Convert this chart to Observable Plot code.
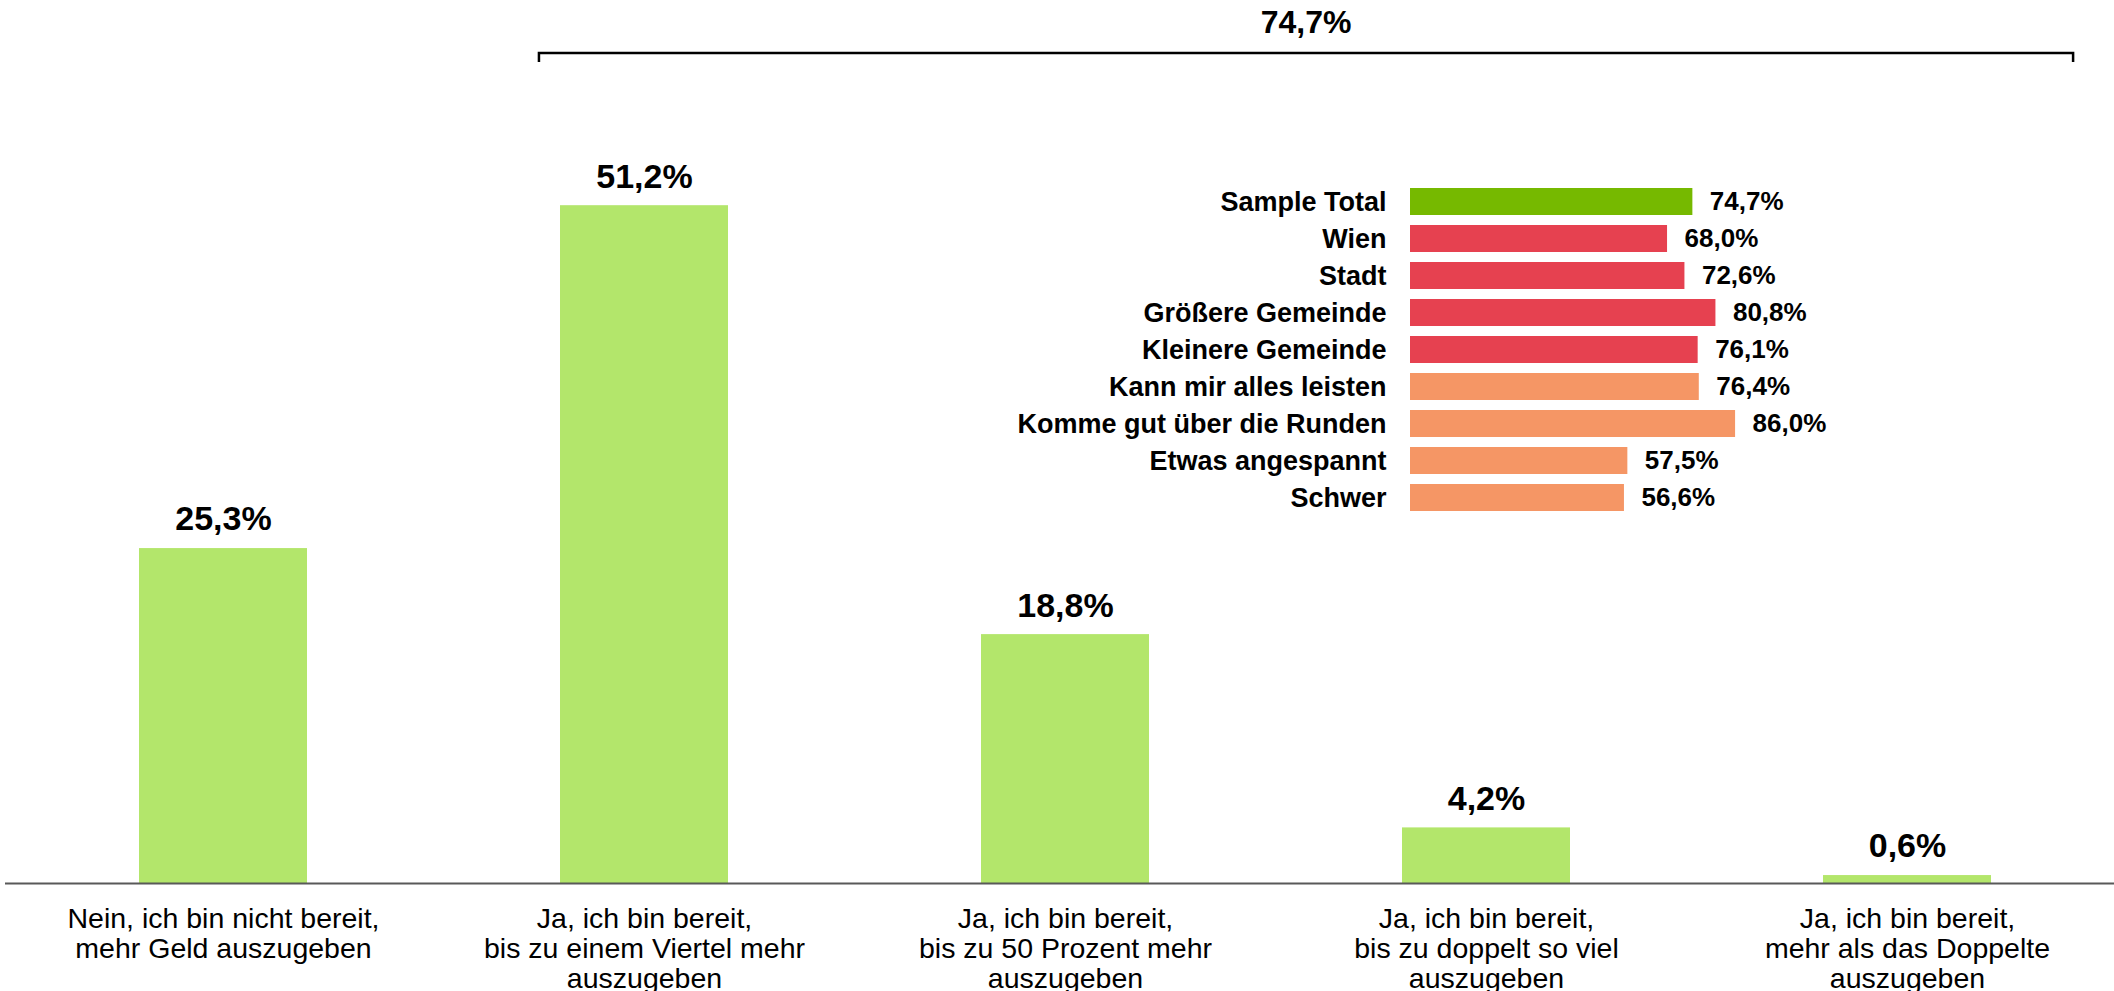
<!DOCTYPE html>
<html>
<head>
<meta charset="utf-8">
<script src="https://cdn.jsdelivr.net/npm/d3@7"></script>
<script src="https://cdn.jsdelivr.net/npm/@observablehq/plot@0.6"></script>
<style>
  html, body { margin: 0; padding: 0; background: #fff; overflow: hidden; }
  #wrap { position: relative; width: 2114px; height: 991px; }
  #wrap svg { position: absolute; left: 0; top: 0; overflow: visible; }
</style>
</head>
<body>
<div id="wrap"></div>
<script>
// ---- data ----
const categories = [
  "Nein, ich bin nicht bereit,\nmehr Geld auszugeben",
  "Ja, ich bin bereit,\nbis zu einem Viertel mehr\nauszugeben",
  "Ja, ich bin bereit,\nbis zu 50 Prozent mehr\nauszugeben",
  "Ja, ich bin bereit,\nbis zu doppelt so viel\nauszugeben",
  "Ja, ich bin bereit,\nmehr als das Doppelte\nauszugeben"
];
const shares = [25.3, 51.2, 18.8, 4.2, 0.6];
const totalYes = 74.7;

const groups = ["Sample Total", "Wien", "Stadt", "Größere Gemeinde", "Kleinere Gemeinde",
  "Kann mir alles leisten", "Komme gut über die Runden", "Etwas angespannt", "Schwer"];
const groupValues = [74.7, 68.0, 72.6, 80.8, 76.1, 76.4, 86.0, 57.5, 56.6];
const groupKinds = ["total", "region", "region", "region", "region", "income", "income", "income", "income"];
const kindDomain = ["total", "region", "income"];

// ---- tables ----
const mainData = categories.map((c, i) => ({cat: c, value: shares[i]}));
const insetData = groups.map((g, i) => ({group: g, value: groupValues[i], kind: groupKinds[i]}));
const fmt = v => d3.format(".1f")(v).replace(".", ",") + "%";

const W = 2114, H = 991;
const FONT = "'Liberation Sans', Arial, Helvetica, sans-serif";

const main = Plot.plot({
  width: W, height: H,
  marginTop: 0, marginBottom: 108, marginLeft: 5, marginRight: 0,
  style: {fontFamily: FONT, background: "transparent", color: "#000"},
  x: {domain: categories, range: [13, 2118], paddingInner: 0.6, paddingOuter: 0.3, axis: null},
  y: {domain: [0, 66.7], axis: null},
  marks: [
    Plot.barY(mainData, {x: "cat", y: "value", fill: "#b3e66b"}),
    Plot.ruleY([0], {stroke: "#595959", strokeWidth: 2}),
    Plot.text(mainData, {x: "cat", y: "value", text: d => fmt(d.value), dy: -29,
      fontSize: 34, fontWeight: "bold", fill: "#000"}),
    Plot.text(mainData, {x: "cat", y: 0, text: "cat", lineAnchor: "top", dy: 23,
      fontSize: 28.5, lineHeight: 1.05, fill: "#000"})
  ]
});

// bracket over the "Ja" answers, positioned from the x scale
const xs = main.scale("x");
const step = xs.step;
const bx1 = xs.apply(categories[1]) - 0.05 * step;
const bx2 = xs.apply(categories[4]) + xs.bandwidth + 0.195 * step;
const by = 53;
const g = d3.select(main).append("g");
g.append("path")
  .attr("d", `M${bx1},${by + 9}V${by}H${bx2}V${by + 9}`)
  .attr("fill", "none").attr("stroke", "#000").attr("stroke-width", 2.5);
g.append("text")
  .attr("x", (bx1 + bx2) / 2).attr("y", 22).attr("dy", "0.35em")
  .attr("text-anchor", "middle")
  .attr("font-size", 32).attr("font-weight", "bold").attr("fill", "#000")
  .text(fmt(totalYes));

const inset = Plot.plot({
  width: W, height: H,
  marginLeft: 1410, marginRight: W - 1410 - 378, marginTop: 174, marginBottom: 466,
  style: {fontFamily: FONT, background: "transparent", color: "#000"},
  x: {domain: [0, 100], axis: null},
  y: {domain: groups, padding: 0.26, axis: null},
  color: {domain: kindDomain, range: ["#76b900", "#e64150", "#f59665"]},
  marks: [
    Plot.barX(insetData, {y: "group", x: "value", fill: "kind"}),
    Plot.text(insetData, {y: "group", x: 0, text: "group", textAnchor: "end", dx: -24,
      fontSize: 27, fontWeight: "bold", fill: "#000"}),
    Plot.text(insetData, {y: "group", x: "value", text: d => fmt(d.value), textAnchor: "start", dx: 17,
      fontSize: 26, fontWeight: "bold", fill: "#000"})
  ]
});
inset.style.pointerEvents = "none";

const wrap = document.getElementById("wrap");
wrap.appendChild(main);
wrap.appendChild(inset);
</script>
</body>
</html>
